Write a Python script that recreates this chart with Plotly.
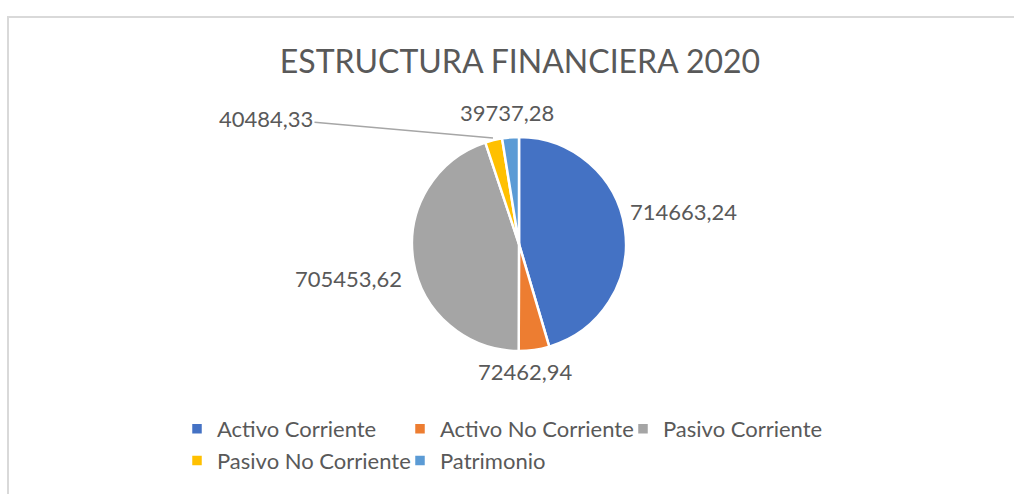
import plotly.graph_objects as go

categories = ["Activo Corriente", "Activo No Corriente", "Pasivo Corriente",
              "Pasivo No Corriente", "Patrimonio"]
values = [714663.24, 72462.94, 705453.62, 40484.33, 39737.28]
colors = ["#4472C4", "#ED7D31", "#A5A5A5", "#FFC000", "#5B9BD5"]
title_text = "ESTRUCTURA FINANCIERA 2020"

W, H = 1014, 494
MR = 164              # right margin: limits legend to 3 entries per row
PW = W - MR           # plot-area width in pixels
FONT = "Lato, Carlito, Calibri, sans-serif"
TXT = "#595959"

cx, cy, r = 519, 244, 107

# data-label placement (pixels) taken from the reference layout
label_pos = [(683, 211), (525, 371), (348, 278), (266, 118), (507, 112)]


def fmt(v):
    return f"{v:.2f}".replace(".", ",")


def xp(px):
    return px / PW


def yp(py):
    return 1 - py / H


fig = go.Figure(go.Pie(
    labels=categories,
    values=values,
    sort=False,
    direction="clockwise",
    rotation=0,
    marker=dict(colors=colors, line=dict(color="white", width=2.5)),
    textinfo="none",
    domain=dict(x=[xp(cx - r), xp(cx + r)], y=[yp(cy + r), yp(cy - r)]),
    automargin=False,
    showlegend=True,
    hoverinfo="skip",
))

annotations = []
for i, v in enumerate(values):
    px, py = label_pos[i]
    if i == 3:
        # leader line to the Pasivo No Corriente slice
        annotations.append(dict(
            xref="paper", yref="paper", x=xp(493), y=yp(138),
            axref="pixel", ayref="pixel", ax=px - 493, ay=py - 138,
            text=fmt(v), showarrow=True, arrowhead=0, arrowwidth=1.5,
            arrowcolor="#A6A6A6", standoff=0,
            font=dict(family=FONT, size=22, color=TXT)))
    else:
        annotations.append(dict(
            xref="paper", yref="paper", x=xp(px), y=yp(py),
            xanchor="center", yanchor="middle", text=fmt(v),
            showarrow=False, font=dict(family=FONT, size=22, color=TXT)))

fig.update_layout(
    width=W, height=H,
    margin=dict(l=0, r=MR, t=0, b=0, autoexpand=False),
    paper_bgcolor="white",
    plot_bgcolor="white",
    font=dict(family=FONT, color=TXT),
    title=dict(text=title_text, x=520 / W, xanchor="center",
               y=1 - 62 / H, yanchor="middle",
               font=dict(family=FONT, size=32, color=TXT)),
    legend=dict(orientation="h", x=xp(177), xanchor="left",
                y=yp(408), yanchor="top",
                entrywidth=178, entrywidthmode="pixels",
                font=dict(family=FONT, size=22, color=TXT),
                bgcolor="rgba(0,0,0,0)"),
    annotations=annotations,
    shapes=[
        dict(type="line", xref="paper", yref="paper",
             x0=xp(8), x1=xp(W), y0=yp(17), y1=yp(17),
             line=dict(color="#D9D9D9", width=2)),
        dict(type="line", xref="paper", yref="paper",
             x0=xp(8), x1=xp(8), y0=0, y1=yp(16),
             line=dict(color="#D9D9D9", width=2)),
    ],
)

fig.write_html("out.html", config={"displayModeBar": False},
               post_script="document.body.style.margin='0';")
